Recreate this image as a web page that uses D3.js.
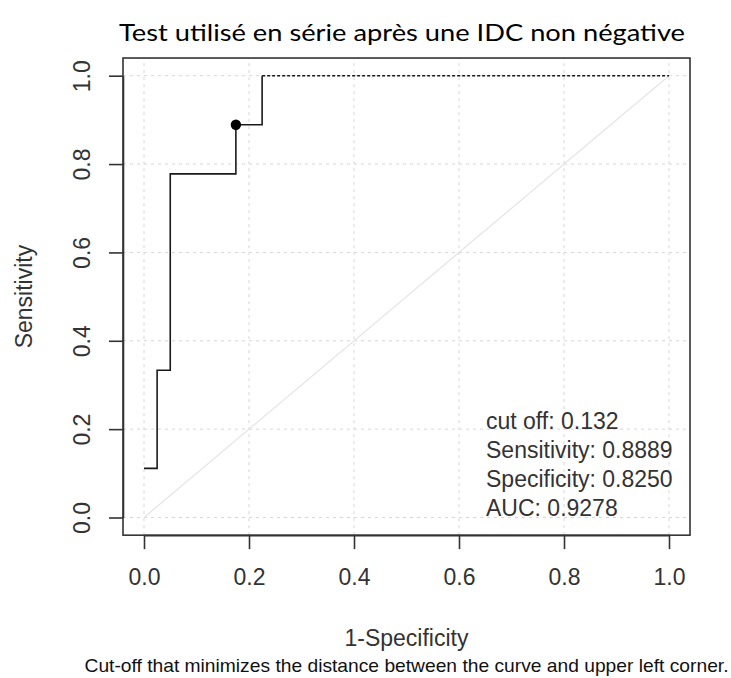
<!DOCTYPE html>
<html>
<head>
<meta charset="utf-8">
<script src="https://cdn.jsdelivr.net/npm/d3@7"></script>
<style>
  html, body { margin: 0; padding: 0; background: #fff; }
  svg { display: block; }
</style>
</head>
<body>
<svg id="chart" width="731" height="678"></svg>
<script>
// ---- data ----
const rocFpr = [0, 0.025, 0.025, 0.05, 0.05, 0.175, 0.175, 0.225, 0.225];
const rocTpr = [0.1111, 0.1111, 0.3333, 0.3333, 0.7778, 0.7778, 0.8889, 0.8889, 1.0];
const tailFpr = [0.225, 1.0];
const tailTpr = [1.0, 1.0];
const cutFpr = [0.175];
const cutTpr = [0.8889];
const xTicks = [0, 0.2, 0.4, 0.6, 0.8, 1.0];
const yTicks = [0, 0.2, 0.4, 0.6, 0.8, 1.0];
const infoLines = ["cut off: 0.132", "Sensitivity: 0.8889", "Specificity: 0.8250", "AUC: 0.9278"];
const titleText = "Test utilisé en série après une IDC non négative";
const xLabel = "1-Specificity";
const yLabel = "Sensitivity";
const subText = "Cut-off that minimizes the distance between the curve and upper left corner.";

const svg = d3.select("#chart");
const x = d3.scaleLinear().domain([0, 1]).range([144, 669]);
const y = d3.scaleLinear().domain([0, 1]).range([517.5, 75.7]);
const x0 = x(-0.04), x1 = x(1.04), y0 = y(-0.04), y1 = y(1.04);
const font = "'Liberation Sans', Arial, sans-serif";

// grid
const grid = svg.append("g").attr("stroke", "#d6d6d6").attr("stroke-width", 1)
  .attr("stroke-dasharray", "3,4").attr("fill", "none");
xTicks.forEach(t => grid.append("line").attr("x1", x(t)).attr("x2", x(t)).attr("y1", y0).attr("y2", y1));
yTicks.forEach(t => grid.append("line").attr("y1", y(t)).attr("y2", y(t)).attr("x1", x0).attr("x2", x1));

// diagonal
svg.append("line").attr("x1", x(0)).attr("y1", y(0)).attr("x2", x(1)).attr("y2", y(1))
  .attr("stroke", "#e4e4e4").attr("stroke-width", 1.2);

// curve
const line = d3.line().x(d => x(d[0])).y(d => y(d[1]));
svg.append("path").datum(d3.zip(rocFpr, rocTpr)).attr("d", line)
  .attr("fill", "none").attr("stroke", "#1a1a1a").attr("stroke-width", 1.6);
svg.append("path").datum(d3.zip(tailFpr, tailTpr)).attr("d", line)
  .attr("fill", "none").attr("stroke", "#1a1a1a").attr("stroke-width", 1.6)
  .attr("stroke-dasharray", "3,2");
svg.selectAll("circle.cut").data(d3.zip(cutFpr, cutTpr)).enter().append("circle")
  .attr("cx", d => x(d[0])).attr("cy", d => y(d[1])).attr("r", 5.2).attr("fill", "#000");

// box
svg.append("rect").attr("x", x0).attr("y", y1).attr("width", x1 - x0).attr("height", y0 - y1)
  .attr("fill", "none").attr("stroke", "#333").attr("stroke-width", 1.6);

// axes
const fmt = d3.format(".1f");
const gx = svg.append("g").attr("transform", `translate(0,${y0})`)
  .call(d3.axisBottom(x).tickValues(xTicks).tickFormat(fmt).tickSize(14).tickSizeOuter(0).tickPadding(0));
gx.select(".domain").attr("stroke", "#333").attr("stroke-width", 1.6);
gx.selectAll(".tick line").attr("stroke", "#333").attr("stroke-width", 1.6);
gx.selectAll(".tick text").attr("dy", null).attr("y", 50).attr("font-family", font)
  .attr("font-size", 23).attr("fill", "#333");

const gy = svg.append("g").attr("transform", `translate(${x0},0)`)
  .call(d3.axisLeft(y).tickValues(yTicks).tickFormat(fmt).tickSize(14).tickSizeOuter(0).tickPadding(0));
gy.select(".domain").attr("stroke", "#333").attr("stroke-width", 1.6);
gy.selectAll(".tick line").attr("stroke", "#333").attr("stroke-width", 1.6);
gy.selectAll(".tick text").attr("x", null).attr("dy", null)
  .attr("transform", "translate(-33,0) rotate(-90)").attr("text-anchor", "middle")
  .attr("font-family", font).attr("font-size", 23).attr("fill", "#333");

// labels
svg.append("text").attr("x", 402).attr("y", 41).attr("text-anchor", "middle")
  .attr("font-family", "Lato, 'Open Sans', sans-serif").attr("font-size", 24).attr("fill", "#000")
  .attr("textLength", 566).attr("lengthAdjust", "spacingAndGlyphs").text(titleText);
svg.append("text").attr("x", (x0 + x1) / 2).attr("y", 646).attr("text-anchor", "middle")
  .attr("font-family", font).attr("font-size", 23).attr("fill", "#333").text(xLabel);
svg.append("text").attr("x", (x0 + x1) / 2).attr("y", 672).attr("text-anchor", "middle")
  .attr("font-family", font).attr("font-size", 19).attr("fill", "#111")
  .attr("textLength", 644).attr("lengthAdjust", "spacingAndGlyphs").text(subText);
svg.append("text").attr("transform", `translate(32,${(y0 + y1) / 2}) rotate(-90)`)
  .attr("text-anchor", "middle").attr("font-family", font).attr("font-size", 23).attr("fill", "#333")
  .text(yLabel);

// info
svg.append("g").selectAll("text").data(infoLines).enter().append("text")
  .attr("x", 486).attr("y", (d, i) => 429 + i * 29)
  .attr("font-family", font).attr("font-size", 23).attr("fill", "#333").text(d => d);
</script>
</body>
</html>
